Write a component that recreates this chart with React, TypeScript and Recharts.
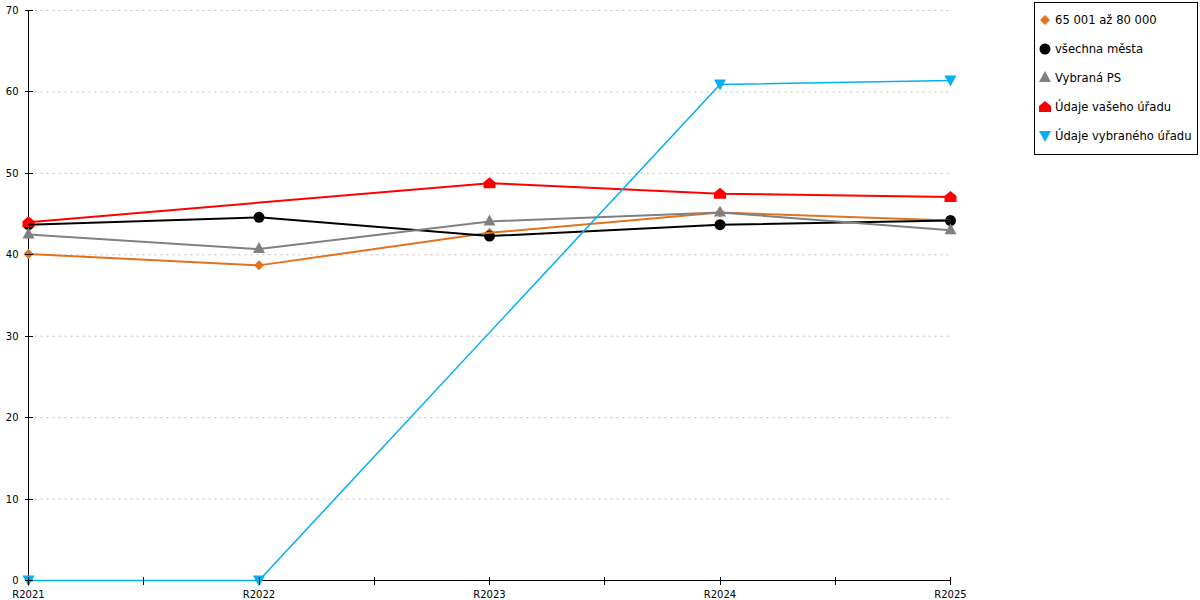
import React from "react";
import {
  CartesianGrid,
  Line,
  LineChart,
  XAxis,
  YAxis,
} from "recharts";

const categories = ["R2021", "R2022", "R2023", "R2024", "R2025"];
const yTicks = [0, 10, 20, 30, 40, 50, 60, 70];
const xTicks = [0, 0.5, 1, 1.5, 2, 2.5, 3, 3.5, 4];

const orange = [40.1, 38.7, 42.7, 45.2, 44.2];
const black = [43.7, 44.6, 42.3, 43.7, 44.2];
const gray = [42.5, 40.7, 44.1, 45.2, 43.0];
const red = [44.0, null, 48.8, 47.5, 47.1];
const blue = [0, 0, null, 60.9, 61.4];

const FONT = "'DejaVu Sans', Verdana, sans-serif";

const data = categories.map((c, i) => ({
  x: i,
  name: c,
  orange: orange[i],
  black: black[i],
  gray: gray[i],
  red: red[i],
  blue: blue[i],
}));

type ShapeKind = "diamond" | "circle" | "triangle" | "house" | "down";

const Marker = ({ kind, cx, cy, color }: { kind: ShapeKind; cx: number; cy: number; color: string }) => {
  switch (kind) {
    case "diamond":
      return <polygon points={`${cx},${cy - 5} ${cx + 5},${cy} ${cx},${cy + 5} ${cx - 5},${cy}`} fill={color} />;
    case "circle":
      return <circle cx={cx} cy={cy} r={5.5} fill={color} />;
    case "triangle":
      return <polygon points={`${cx},${cy - 7} ${cx + 6},${cy + 4} ${cx - 6},${cy + 4}`} fill={color} />;
    case "house":
      return (
        <polygon
          points={`${cx},${cy - 6} ${cx + 6},${cy - 1} ${cx + 6},${cy + 5} ${cx - 6},${cy + 5} ${cx - 6},${cy - 1}`}
          fill={color}
        />
      );
    case "down":
      return <polygon points={`${cx - 6},${cy - 5} ${cx + 6},${cy - 5} ${cx},${cy + 6}`} fill={color} />;
  }
};

const series: { key: string; label: string; color: string; kind: ShapeKind; width: number }[] = [
  { key: "orange", label: "65 001 až 80 000", color: "#e2731e", kind: "diamond", width: 2 },
  { key: "black", label: "všechna města", color: "#000000", kind: "circle", width: 2 },
  { key: "gray", label: "Vybraná PS", color: "#808080", kind: "triangle", width: 2 },
  { key: "red", label: "Údaje vašeho úřadu", color: "#ff0000", kind: "house", width: 2 },
  { key: "blue", label: "Údaje vybraného úřadu", color: "#00b0f0", kind: "down", width: 1.5 },
];

const XTick = (props: any) => {
  const { x, y, payload } = props;
  const v = payload.value;
  const isCat = Number.isInteger(v);
  return (
    <g>
      <line x1={x} x2={x} y1={y - 4} y2={y + 4} stroke="#000" shapeRendering="crispEdges" />
      {isCat && (
        <text x={x} y={y + 17} textAnchor="middle" fontSize={10} fontFamily={FONT} fill="#000">
          {categories[v]}
        </text>
      )}
    </g>
  );
};

const YTick = (props: any) => {
  const { x, y, payload } = props;
  return (
    <g>
      <line x1={x - 4} x2={x + 4} y1={y} y2={y} stroke="#000" shapeRendering="crispEdges" />
      <text x={x - 10} y={y + 3.5} textAnchor="end" fontSize={10} fontFamily={FONT} fill="#000">
        {payload.value}
      </text>
    </g>
  );
};

// legend drawn beside the chart, not inside it, so it takes no room from the plot
const LegendBox = () => (
  <div
    style={{
      position: "absolute",
      left: 1034,
      top: 2,
      width: 162,
      height: 151,
      border: "1px solid #000",
      background: "#fff",
      fontFamily: FONT,
      fontSize: 11.6,
    }}
  >
    {series.map((s, i) => (
      <div key={s.key} style={{ position: "absolute", left: 0, top: 7 + i * 29, height: 20, display: "flex", alignItems: "center" }}>
        <svg width={20} height={20}>
          <Marker kind={s.kind} cx={10} cy={10} color={s.color} />
        </svg>
        <span style={{ whiteSpace: "nowrap" }}>{s.label}</span>
      </div>
    ))}
  </div>
);

const App = () => {
  return (
    <div style={{ position: "absolute", left: 0, top: 0, width: 1200, height: 600, background: "#fff" }}>
      <LineChart width={1200} height={600} data={data} margin={{ top: 10.5, right: 249.5, left: 0, bottom: 0 }}>
        <CartesianGrid yAxisId="left" vertical={false} stroke="#bdbdbd" strokeDasharray="2 4" />
        <XAxis
          dataKey="x"
          type="number"
          domain={[0, 4]}
          ticks={xTicks}
          interval={0}
          height={19.5}
          tickLine={false}
          tickSize={0}
          tickMargin={0}
          axisLine={{ stroke: "#000" }}
          tick={<XTick />}
        />
        <YAxis
          yAxisId="left"
          domain={[0, 70]}
          ticks={yTicks}
          width={28.5}
          tickLine={false}
          tickSize={0}
          tickMargin={0}
          axisLine={{ stroke: "#000" }}
          tick={<YTick />}
        />
        <YAxis yAxisId="right" orientation="right" width={0} domain={[0, 70]} tick={false} tickLine={false} axisLine={{ stroke: "#000" }} />
        {series.map((s, i) => (
          <Line
            key={s.key}
            yAxisId="left"
            dataKey={s.key}
            stroke={s.color}
            strokeWidth={s.width}
            connectNulls
            isAnimationActive={false}
            activeDot={false}
            {...({ zIndex: 1000 + i } as any)}
            dot={(p: any) =>
              p.cy == null || p.value == null ? (
                <g key={`${s.key}-${p.index}`} />
              ) : (
                <g key={`${s.key}-${p.index}`}>
                  <Marker kind={s.kind} cx={p.cx} cy={p.cy} color={s.color} />
                </g>
              )
            }
          />
        ))}
      </LineChart>
      <LegendBox />
    </div>
  );
};

export default App;
